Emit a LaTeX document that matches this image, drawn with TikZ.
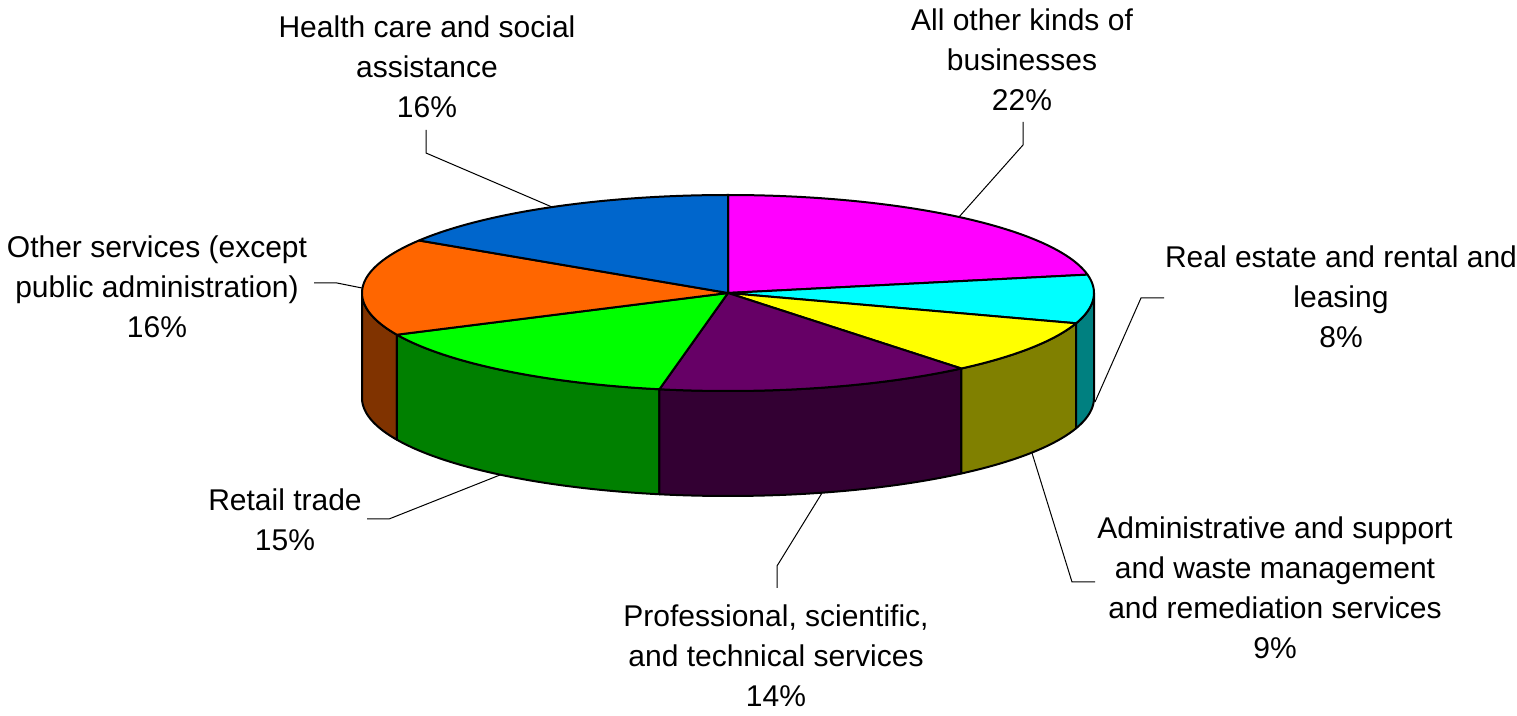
\documentclass[tikz,border=0pt]{standalone}
\usepackage{fontspec}
\setmainfont{Liberation Sans}
\definecolor{topMag}{RGB}{255,0,255}
\definecolor{topCyan}{RGB}{0,255,255}
\definecolor{topYel}{RGB}{255,255,0}
\definecolor{topPur}{RGB}{102,0,102}
\definecolor{topGrn}{RGB}{0,255,0}
\definecolor{topOra}{RGB}{255,102,0}
\definecolor{topBlu}{RGB}{0,102,204}
\definecolor{sideCyan}{RGB}{0,128,128}
\definecolor{sideYel}{RGB}{128,128,0}
\definecolor{sidePur}{RGB}{51,0,51}
\definecolor{sideGrn}{RGB}{0,128,0}
\definecolor{sideOra}{RGB}{128,51,0}
\newcommand\pietop[3]{\filldraw[pieline,fill=#3] (728,293) -- plot[domain=#1:#2,samples=60] ({728+366*cos(\x)},{293-98*sin(\x)}) -- cycle;}
\newcommand\piewall[3]{\filldraw[pieline,fill=#3] plot[domain=#1:#2,samples=40] ({728+366*cos(\x)},{293-98*sin(\x)}) -- plot[domain=#2:#1,samples=40] ({728+366*cos(\x)},{398-98*sin(\x)}) -- cycle;}
\begin{document}
\begin{tikzpicture}[x=0.5pt,y=-0.5pt,
  pieline/.style={draw=black,line width=1pt,line join=round},
  lbl/.style={anchor=north,inner sep=0pt,align=center,font=\fontsize{15}{20}\selectfont},
  leader/.style={draw=black,line width=0.5pt}]
\useasboundingbox (0,0) rectangle (1517,716);
% side walls
\piewall{180}{205.2}{sideOra}
\piewall{205.2}{259.2}{sideGrn}
\piewall{259.2}{309.6}{sidePur}
\piewall{309.6}{342}{sideYel}
\piewall{342}{360}{sideCyan}
% top faces
\pietop{90}{10.8}{topMag}
\pietop{10.8}{-18}{topCyan}
\pietop{-18}{-50.4}{topYel}
\pietop{-50.4}{-100.8}{topPur}
\pietop{-100.8}{-154.8}{topGrn}
\pietop{-154.8}{-212.4}{topOra}
\pietop{-212.4}{-270}{topBlu}
% labels
\node[lbl] (health) at (427,15) {Health care and social\\assistance\\16\%};
\node[lbl] (other) at (1022,8) {All other kinds of\\businesses\\22\%};
\node[lbl] (realest) at (1341,245) {Real estate and rental and\\leasing\\8\%};
\node[lbl] (admin) at (1275,516) {Administrative and support\\and waste management\\and remediation services\\9\%};
\node[lbl] (prof) at (776,604) {Professional, scientific,\\and technical services\\14\%};
\node[lbl] (retail) at (285,488) {Retail trade\\15\%};
\node[lbl] (othsrv) at (157,235) {Other services (except\\public administration)\\16\%};
% leader points
\coordinate (h0) at (426,130); \coordinate (h1) at (426,153); \coordinate (h2) at (552,207);
\coordinate (a0) at (1023,122); \coordinate (a1) at (1023,145); \coordinate (a2) at (959,217);
\coordinate (r0) at (1164,298); \coordinate (r1) at (1141,298); \coordinate (r2) at (1095,402);
\coordinate (d0) at (1095,582); \coordinate (d1) at (1072,582); \coordinate (d2) at (1032,453);
\coordinate (p0) at (777,588); \coordinate (p1) at (777,566); \coordinate (p2) at (822,493);
\coordinate (t0) at (367,519); \coordinate (t1) at (389,519); \coordinate (t2) at (500,475);
\coordinate (o0) at (314,283); \coordinate (o1) at (337,283); \coordinate (o2) at (362,288);
\draw[leader] (h0) -- (h1) -- (h2);
\draw[leader] (a0) -- (a1) -- (a2);
\draw[leader] (r0) -- (r1) -- (r2);
\draw[leader] (d0) -- (d1) -- (d2);
\draw[leader] (p0) -- (p1) -- (p2);
\draw[leader] (t0) -- (t1) -- (t2);
\draw[leader] (o0) -- (o1) -- (o2);
\end{tikzpicture}
\end{document}
